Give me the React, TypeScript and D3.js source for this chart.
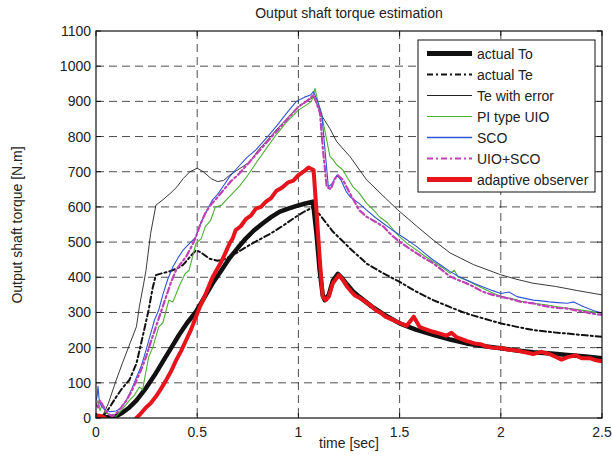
import React from "react";
import * as d3 from "d3";

type P = [number, number];

const xTicks = [0, 0.5, 1, 1.5, 2, 2.5];
const xTickLabels = ["0", "0.5", "1", "1.5", "2", "2.5"];
const yTicks = [0, 100, 200, 300, 400, 500, 600, 700, 800, 900, 1000, 1100];

const actualTo: P[] = [[0,4],[0.03,3],[0.06,2],[0.1,5],[0.13,15],[0.165,30],[0.2,50],[0.247,85],[0.29,122],[0.33,160],[0.37,198],[0.41,236],[0.45,270],[0.494,302],[0.535,342],[0.576,383],[0.62,420],[0.659,454],[0.7,483],[0.74,510],[0.78,533],[0.823,553],[0.865,571],[0.906,586],[0.95,595],[0.988,602],[1.03,609],[1.072,615],[1.09,520],[1.105,420],[1.12,350],[1.13,335],[1.15,350],[1.17,390],[1.195,410],[1.215,398],[1.24,380],[1.27,360],[1.3,345],[1.36,318],[1.42,295],[1.5,269],[1.58,251],[1.67,236],[1.75,223],[1.83,212],[1.92,204],[2.0,198],[2.08,192],[2.16,187],[2.25,183],[2.33,179],[2.42,175],[2.5,170]];

const actualTe: P[] = [[0.03,5],[0.05,15],[0.1,60],[0.13,85],[0.165,108],[0.2,155],[0.23,230],[0.26,307],[0.28,370],[0.296,406],[0.33,412],[0.36,416],[0.4,425],[0.43,435],[0.46,455],[0.494,477],[0.52,470],[0.56,453],[0.6,447],[0.626,449],[0.66,458],[0.69,468],[0.757,491],[0.8,505],[0.856,522],[0.92,545],[0.988,572],[1.03,587],[1.07,598],[1.107,577],[1.17,530],[1.255,482],[1.337,439],[1.42,411],[1.5,387],[1.58,360],[1.666,335],[1.75,315],[1.83,297],[1.92,282],[2.0,269],[2.08,259],[2.16,250],[2.25,244],[2.33,240],[2.42,235],[2.5,231]];

const teError: P[] = [[0.03,2],[0.06,40],[0.1,108],[0.13,155],[0.17,215],[0.2,260],[0.214,316],[0.235,380],[0.247,420],[0.27,525],[0.296,605],[0.33,620],[0.37,640],[0.4,657],[0.43,680],[0.464,700],[0.5,710],[0.53,700],[0.57,680],[0.6,672],[0.63,675],[0.66,690],[0.7,705],[0.76,728],[0.8,760],[0.85,792],[0.9,825],[0.95,855],[1.0,885],[1.04,900],[1.075,912],[1.09,895],[1.12,855],[1.155,823],[1.19,785],[1.255,743],[1.337,677],[1.43,625],[1.49,592],[1.585,545],[1.666,506],[1.75,469],[1.865,436],[2.0,407],[2.08,394],[2.16,383],[2.27,374],[2.38,362],[2.5,350]];

const piUio: P[] = [[0,35],[0.01,50],[0.02,20],[0.03,40],[0.05,15],[0.07,8],[0.1,5],[0.13,25],[0.165,50],[0.19,65],[0.214,88],[0.23,80],[0.26,173],[0.28,200],[0.31,259],[0.33,270],[0.36,335],[0.38,330],[0.41,373],[0.44,410],[0.46,420],[0.477,458],[0.494,496],[0.52,510],[0.54,544],[0.565,560],[0.59,600],[0.62,605],[0.66,630],[0.71,660],[0.75,690],[0.79,724],[0.84,765],[0.89,805],[0.94,840],[1.0,875],[1.04,890],[1.065,900],[1.082,937],[1.098,895],[1.115,860],[1.13,819],[1.156,743],[1.17,735],[1.19,719],[1.22,705],[1.245,680],[1.27,657],[1.3,640],[1.337,610],[1.37,592],[1.4,572],[1.44,555],[1.47,534],[1.5,515],[1.54,495],[1.585,477],[1.62,462],[1.666,444],[1.71,428],[1.75,411],[1.77,420],[1.79,400],[1.83,392],[1.87,380],[1.91,369],[1.96,355],[2.0,345],[2.05,340],[2.1,332],[2.16,326],[2.22,322],[2.28,316],[2.33,312],[2.38,308],[2.44,303],[2.5,298]];

const sco: P[] = [[0,50],[0.005,60],[0.01,90],[0.015,55],[0.025,35],[0.04,25],[0.05,22],[0.07,18],[0.1,20],[0.125,30],[0.15,50],[0.175,80],[0.2,116],[0.225,150],[0.247,192],[0.27,240],[0.29,280],[0.31,307],[0.33,350],[0.355,395],[0.38,430],[0.405,455],[0.43,477],[0.46,495],[0.494,515],[0.515,550],[0.54,582],[0.576,620],[0.6,635],[0.63,660],[0.66,686],[0.7,712],[0.745,740],[0.79,762],[0.84,795],[0.89,828],[0.94,865],[0.99,900],[1.03,912],[1.06,918],[1.074,928],[1.095,900],[1.115,866],[1.13,771],[1.148,657],[1.165,665],[1.19,690],[1.21,677],[1.235,645],[1.255,629],[1.3,610],[1.337,591],[1.38,570],[1.42,553],[1.46,536],[1.5,520],[1.54,505],[1.585,487],[1.62,470],[1.666,449],[1.71,432],[1.75,416],[1.79,403],[1.83,392],[1.87,382],[1.91,373],[1.96,362],[2.0,354],[2.04,358],[2.08,345],[2.12,340],[2.16,335],[2.2,333],[2.24,330],[2.28,328],[2.33,326],[2.36,330],[2.41,316],[2.46,305],[2.5,298]];

const uioSco: P[] = [[0,40],[0.01,30],[0.02,50],[0.035,35],[0.05,20],[0.065,10],[0.08,5],[0.1,13],[0.125,30],[0.15,50],[0.175,75],[0.2,107],[0.225,140],[0.247,173],[0.27,215],[0.296,259],[0.32,300],[0.346,344],[0.37,385],[0.395,420],[0.42,440],[0.445,458],[0.47,485],[0.494,515],[0.515,550],[0.54,582],[0.565,605],[0.59,620],[0.63,648],[0.67,675],[0.7,690],[0.75,722],[0.8,755],[0.85,788],[0.9,820],[0.95,852],[1.0,885],[1.04,900],[1.074,918],[1.09,895],[1.107,866],[1.12,771],[1.14,657],[1.16,650],[1.18,680],[1.195,690],[1.22,677],[1.255,638],[1.3,591],[1.337,572],[1.38,558],[1.42,544],[1.46,520],[1.5,501],[1.54,485],[1.585,468],[1.62,455],[1.666,440],[1.71,420],[1.75,402],[1.79,392],[1.83,383],[1.87,372],[1.91,359],[1.96,350],[2.0,345],[2.05,338],[2.1,330],[2.16,326],[2.2,320],[2.24,316],[2.28,313],[2.33,311],[2.37,306],[2.41,302],[2.46,296],[2.5,293]];

const adaptive: P[] = [[0,8],[0.02,6],[0.04,2],[0.06,-10],[0.19,-10],[0.2,0],[0.22,12],[0.247,30],[0.27,42],[0.296,61],[0.32,82],[0.346,107],[0.37,132],[0.395,163],[0.42,190],[0.445,221],[0.47,252],[0.494,288],[0.515,318],[0.54,350],[0.56,378],[0.576,400],[0.6,425],[0.62,445],[0.64,470],[0.66,496],[0.675,510],[0.69,534],[0.715,545],[0.74,565],[0.765,575],[0.79,595],[0.815,600],[0.84,615],[0.865,625],[0.89,645],[0.92,655],[0.95,670],[0.975,675],[1.0,690],[1.025,700],[1.05,712],[1.075,705],[1.09,582],[1.107,440],[1.12,345],[1.135,335],[1.15,345],[1.17,383],[1.2,406],[1.22,392],[1.24,374],[1.26,360],[1.28,348],[1.3,342],[1.33,331],[1.36,318],[1.386,305],[1.41,298],[1.43,288],[1.47,278],[1.5,270],[1.535,262],[1.57,288],[1.6,258],[1.63,252],[1.666,245],[1.7,240],[1.73,234],[1.757,242],[1.78,230],[1.83,219],[1.87,212],[1.9,210],[1.93,203],[1.96,200],[2.0,199],[2.04,194],[2.08,192],[2.12,187],[2.16,182],[2.2,188],[2.24,182],[2.27,174],[2.3,166],[2.33,173],[2.37,178],[2.4,170],[2.44,170],[2.47,164],[2.5,161]];

const legendLabels = ["actual To", "actual Te", "Te with error", "PI type UIO", "SCO", "UIO+SCO", "adaptive observer"];

const W = 612, H = 462;
const L = 96, R = 602, T = 31, B = 418;
const FONT = "'Liberation Sans', Arial, Helvetica, sans-serif";

export default function App() {
  const x = d3.scaleLinear().domain([0, 2.5]).range([L, R]);
  const y = d3.scaleLinear().domain([0, 1100]).range([B, T]);
  const line = d3.line<P>().x(d => x(d[0])).y(d => y(d[1]));

  const series = [
    { data: actualTo, color: "#111", width: 4.5, lw: 5, dash: undefined },
    { data: actualTe, color: "#111", width: 2, lw: 2, dash: "6,3,2,3" },
    { data: teError, color: "#222", width: 0.9, lw: 1, dash: undefined },
    { data: piUio, color: "#4cb034", width: 1.1, lw: 1.2, dash: undefined },
    { data: sco, color: "#2f55d4", width: 1.1, lw: 1.6, dash: undefined },
    { data: uioSco, color: "#c040b8", width: 2.2, lw: 2, dash: "6,3,2,3" },
    { data: adaptive, color: "#e8141c", width: 4, lw: 5, dash: undefined },
  ];

  const legX = 418, legY = 40, legW = 177, legH = 152;
  const rowY = (i: number) => 53.5 + i * 21;

  return (
    <svg width={W} height={H} style={{ position: "absolute", left: 0, top: 0, background: "#fff" }} fontFamily={FONT}>
      <rect x={0} y={0} width={W} height={H} fill="#fff" />
      <defs>
        <clipPath id="plotClip">
          <rect x={L} y={T} width={R - L} height={B - T} />
        </clipPath>
      </defs>
      {xTicks.slice(1, -1).map(t => (
        <line key={"gx" + t} x1={x(t)} x2={x(t)} y1={T} y2={B} stroke="#222" strokeWidth={0.8} strokeDasharray="8,5" />
      ))}
      {yTicks.slice(1, -1).map(t => (
        <line key={"gy" + t} x1={L} x2={R} y1={y(t)} y2={y(t)} stroke="#222" strokeWidth={0.8} strokeDasharray="8,5" />
      ))}
      <g clipPath="url(#plotClip)">
        {series.map((s, i) => (
          <path key={i} d={line(s.data) || ""} fill="none" stroke={s.color} strokeWidth={s.width}
            strokeDasharray={s.dash} strokeLinejoin="round" strokeLinecap="round" />
        ))}
      </g>
      <rect x={L} y={T} width={R - L} height={B - T} fill="none" stroke="#111" strokeWidth={1.2} />
      {xTicks.map(t => (
        <g key={"tx" + t}>
          <line x1={x(t)} x2={x(t)} y1={B} y2={B - 5} stroke="#111" />
          <line x1={x(t)} x2={x(t)} y1={T} y2={T + 5} stroke="#111" />
        </g>
      ))}
      {yTicks.map(t => (
        <g key={"ty" + t}>
          <line x1={L} x2={L + 5} y1={y(t)} y2={y(t)} stroke="#111" />
          <line x1={R} x2={R - 5} y1={y(t)} y2={y(t)} stroke="#111" />
        </g>
      ))}
      {xTicks.map((t, i) => (
        <text key={"lx" + t} x={x(t)} y={B + 19} fontSize={14} textAnchor="middle" fill="#222">{xTickLabels[i]}</text>
      ))}
      {yTicks.map(t => (
        <text key={"ly" + t} x={L - 5} y={y(t) + 5} fontSize={14} textAnchor="end" fill="#222">{t}</text>
      ))}
      <text x={349} y={18} fontSize={14} textAnchor="middle" fill="#222">Output shaft torque estimation</text>
      <text x={349} y={448} fontSize={14} textAnchor="middle" fill="#222">time [sec]</text>
      <text transform={`translate(22,225) rotate(-90)`} fontSize={14} textAnchor="middle" fill="#222">Output shaft torque [N.m]</text>
      <rect x={legX} y={legY} width={legW} height={legH} fill="#fff" stroke="#111" strokeWidth={1} />
      {series.map((s, i) => (
        <g key={"lg" + i}>
          <line x1={427} x2={472} y1={rowY(i)} y2={rowY(i)} stroke={s.color}
            strokeWidth={s.lw} strokeDasharray={s.dash} />
          <text x={477} y={rowY(i) + 5} fontSize={14} fill="#222">{legendLabels[i]}</text>
        </g>
      ))}
    </svg>
  );
}
